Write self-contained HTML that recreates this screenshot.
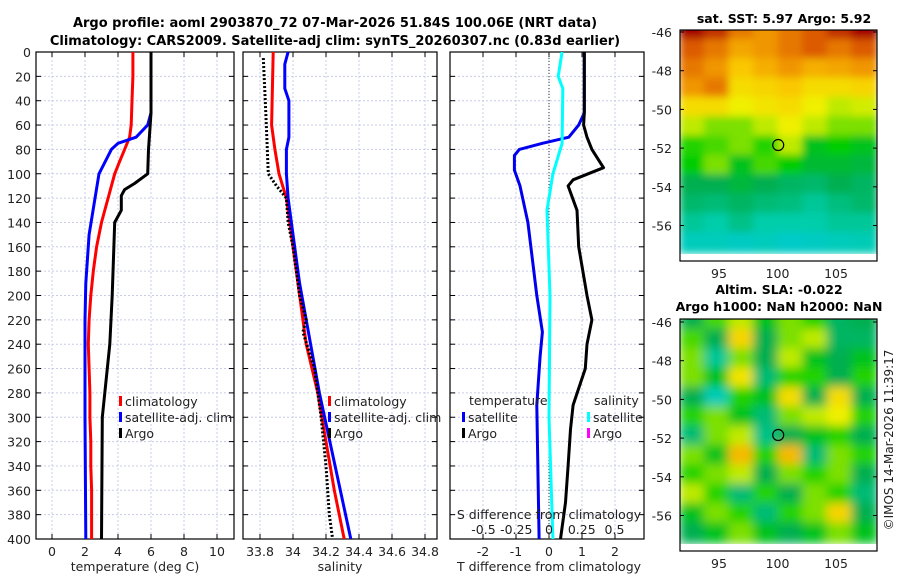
<!DOCTYPE html>
<html><head><meta charset="utf-8"><style>
body{margin:0;background:#fff;}
svg{display:block;font-family:"DejaVu Sans","Liberation Sans",sans-serif;}
</style></head><body>
<svg id="fig" width="900" height="580" viewBox="0 0 900 580" xmlns="http://www.w3.org/2000/svg">
<defs>
<filter id="blur1" x="0" y="0" width="1" height="1"><feGaussianBlur stdDeviation="4" edgeMode="duplicate"/></filter>
<filter id="blur2" x="0" y="0" width="1" height="1"><feGaussianBlur stdDeviation="5" edgeMode="duplicate"/></filter>
<clipPath id="c1"><rect x="36" y="52" width="198" height="487"/></clipPath>
<clipPath id="c2"><rect x="243" y="52" width="194" height="487"/></clipPath>
<clipPath id="c3"><rect x="450" y="52" width="194" height="487"/></clipPath>
<clipPath id="cm1"><rect x="680" y="30" width="197" height="231"/></clipPath>
<clipPath id="cm2"><rect x="680" y="319" width="197" height="232"/></clipPath>
</defs>
<g font-weight="bold" font-size="13" text-anchor="middle">
<text x="335" y="27">Argo profile: aoml 2903870_72 07-Mar-2026 51.84S 100.06E (NRT data)</text>
<text x="335" y="45">Climatology: CARS2009. Satellite-adj clim: synTS_20260307.nc (0.83d earlier)</text>
</g>
<g id="layer"></g>
</svg>
<script>
// ---- data ----
const depthTicks=[0,20,40,60,80,100,120,140,160,180,200,220,240,260,280,300,320,340,360,380,400];
const tTicks=[0,2,4,6,8,10];
const sTicks=[33.8,34,34.2,34.4,34.6,34.8];
const sTickLabels=["33.8","34","34.2","34.4","34.6","34.8"];
const dTicks=[-2,-1,0,1,2];
const sdTicks=[-0.5,-0.25,0,0.25,0.5];
const sdTickLabels=["-0.5","-0.25","0","0.25","0.5"];

const climTDepth=[0,20,40,60,70,80,90,100,120,140,160,180,200,220,240,260,280,300,320,340,360,380,400];
const climT=[4.9,4.9,4.85,4.8,4.7,4.4,4.1,3.8,3.4,3.0,2.7,2.5,2.35,2.25,2.2,2.25,2.3,2.3,2.35,2.35,2.4,2.4,2.4];
const satTDepth=[0,50,60,70,75,80,100,150,190,220,300,400];
const satT=[6.0,6.0,5.8,5.1,4.0,3.6,2.85,2.25,2.05,2.0,2.0,2.05];
const argoTDepth=[0,50,60,80,100,108,113,118,130,140,200,240,280,300,400];
const argoT=[6.0,6.0,5.95,5.85,5.8,5.0,4.4,4.2,4.2,3.8,3.65,3.5,3.2,3.05,3.0];

const climSDepth=[0,60,80,100,120,140,190,240,280,320,360,400];
const climS=[33.88,33.87,33.89,33.915,33.96,33.98,34.03,34.08,34.15,34.2,34.25,34.31];
const satSDepth=[0,10,30,40,70,80,100,120,150,190,280,400];
const satS=[33.97,33.95,33.95,33.975,33.975,33.96,33.96,33.97,34.0,34.04,34.16,34.35];
const argoSDepth=[5,50,100,110,115,120,140,160,200,220,230,260,300,340,380,400];
const argoS=[33.82,33.835,33.85,33.9,33.93,33.96,33.97,34.0,34.04,34.08,34.06,34.13,34.17,34.2,34.22,34.24];

const dTSatDepth=[0,50,60,70,75,80,85,97,110,140,200,230,250,290,400];
const dTSat=[1.07,1.07,0.9,0.6,-0.2,-0.9,-1.05,-1.05,-0.88,-0.64,-0.37,-0.2,-0.27,-0.37,-0.3];
const dTArgoDepth=[0,50,60,70,80,95,105,110,130,160,200,220,240,260,290,310,340,370,400];
const dTArgo=[1.07,1.07,1.05,1.15,1.3,1.65,0.73,0.58,0.85,0.9,1.15,1.3,1.15,1.1,0.73,0.65,0.58,0.5,0.35];
const dSSatDepth=[0,20,30,75,100,130,200,300,400];
const dSSat=[0.1,0.07,0.105,0.1,0.03,-0.015,0.008,0,0.03];

const latTicks=[-46,-48,-50,-52,-54,-56];
const lonTicks=[95,100,105];
const sstGrid=[
[0.95,0.9,0.8,0.75,0.8,0.85,0.9,0.95],
[0.85,0.8,0.72,0.75,0.8,0.85,0.8,0.85],
[0.8,0.75,0.65,0.7,0.75,0.7,0.72,0.75],
[0.75,0.8,0.6,0.62,0.65,0.6,0.6,0.62],
[0.6,0.6,0.55,0.58,0.6,0.55,0.5,0.52],
[0.5,0.45,0.45,0.5,0.55,0.5,0.45,0.45],
[0.4,0.42,0.45,0.4,0.5,0.35,0.38,0.35],
[0.38,0.45,0.35,0.42,0.38,0.33,0.33,0.32],
[0.3,0.3,0.32,0.3,0.28,0.27,0.3,0.28],
[0.27,0.26,0.28,0.26,0.25,0.22,0.25,0.27],
[0.22,0.2,0.24,0.2,0.2,0.2,0.22,0.22],
[0.17,0.17,0.16,0.17,0.15,0.16,0.17,0.18]];
const slaGrid=[
[0.3,0.42,0.5,0.35,0.45,0.4,0.28,0.3],
[0.42,0.3,0.62,0.3,0.45,0.5,0.28,0.28],
[0.45,0.22,0.45,0.3,0.5,0.35,0.3,0.35],
[0.45,0.35,0.58,0.26,0.4,0.4,0.3,0.4],
[0.3,0.18,0.4,0.35,0.6,0.3,0.6,0.3],
[0.4,0.45,0.35,0.26,0.45,0.5,0.55,0.4],
[0.26,0.45,0.5,0.24,0.3,0.35,0.4,0.3],
[0.45,0.35,0.68,0.4,0.68,0.26,0.45,0.4],
[0.4,0.45,0.5,0.3,0.45,0.4,0.45,0.3],
[0.5,0.4,0.26,0.4,0.3,0.45,0.4,0.26],
[0.35,0.45,0.4,0.26,0.4,0.45,0.62,0.3],
[0.3,0.35,0.45,0.35,0.3,0.35,0.45,0.35]];
const gridLat0=-46, gridLon0=91.7, gridDLat=1, gridDLon=2.1;
const argoLon=100.06, argoLat=-51.84;

// ---- helpers ----
const NS="http://www.w3.org/2000/svg";
const L=document.getElementById('layer');
function mk(tag,attrs,parent){const e=document.createElementNS(NS,tag);for(const k in attrs)e.setAttribute(k,attrs[k]);(parent||L).appendChild(e);return e;}
const yD=d=>52+d*487/400;
const xT=v=>52+v*16.5;
const xS=v=>260+(v-33.8)*165;
const xDT=v=>549+v*33;
const xDS=v=>549+v*131;

function panel(x0,w,name,xs,ticks){
  const g=mk('g',{});
  
  
  ticks.forEach(t=>{mk('line',{x1:xs(t),x2:xs(t),y1:52,y2:539,stroke:'#c8cce8','stroke-width':1,'stroke-dasharray':'2,2'},g);});
  depthTicks.forEach(d=>{mk('line',{x1:x0,x2:x0+w,y1:yD(d),y2:yD(d),stroke:'#c8cce8','stroke-width':1,'stroke-dasharray':'2,2'},g);
    mk('line',{x1:x0,x2:x0+5,y1:yD(d),y2:yD(d),stroke:'#000'},g);mk('line',{x1:x0+w-5,x2:x0+w,y1:yD(d),y2:yD(d),stroke:'#000'},g);});
  ticks.forEach(t=>{mk('line',{x1:xs(t),x2:xs(t),y1:534,y2:539,stroke:'#000'},g);mk('line',{x1:xs(t),x2:xs(t),y1:52,y2:57,stroke:'#000'},g);});
  mk('rect',{x:x0,y:52,width:w,height:487,fill:'none',stroke:'#000','stroke-width':1.2},g);
  return g;
}
function line(xs,vals,depths,color,name,dash,width,clip){
  const p=mk('polyline',{points:vals.map((v,i)=>xs(v).toFixed(1)+','+yD(depths[i]).toFixed(1)).join(' '),fill:'none',stroke:color,'stroke-width':width||3,'clip-path':'url(#'+clip+')','stroke-linejoin':'round'});
  if(dash)p.setAttribute('stroke-dasharray',dash);
  
  
}
function txt(x,y,s,opt,name){const t=mk('text',Object.assign({x:x,y:y,'font-size':12.5,fill:'#222'},opt||{}));t.textContent=s;
  
  return t;}
function legEntry(x,y,color,label,name){const r=mk('rect',{x:x,y:y-10,width:3,height:10,fill:color});
  
  
  txt(x+6,y,label,{},name);}

// Panel 1
panel(36,198,'temperature-panel',xT,tTicks);
depthTicks.forEach(d=>txt(31,yD(d)+5,String(d),{'text-anchor':'end'},'depth-tick-label'));
tTicks.forEach(t=>txt(xT(t),556,String(t),{'text-anchor':'middle'},'temperature-tick-label'));
txt(135,571,'temperature (deg C)',{'text-anchor':'middle'},'temperature-axis-title');
line(xT,climT,climTDepth,'#f00','climatology-temperature-line',null,3,'c1');
line(xT,satT,satTDepth,'#00f','satellite-temperature-line',null,3,'c1');
line(xT,argoT,argoTDepth,'#000','argo-temperature-line',null,3,'c1');
legEntry(119,406,'#f00','climatology','legend-climatology');
legEntry(119,422,'#00f','satellite-adj. clim','legend-satellite');
legEntry(119,438,'#000','Argo','legend-argo');

// Panel 2
panel(243,194,'salinity-panel',xS,sTicks);
sTicks.forEach((t,i)=>txt(xS(t),556,sTickLabels[i],{'text-anchor':'middle'},'salinity-tick-label'));
txt(340,571,'salinity',{'text-anchor':'middle'},'salinity-axis-title');
line(xS,climS,climSDepth,'#f00','climatology-salinity-line',null,3,'c2');
line(xS,satS,satSDepth,'#00f','satellite-salinity-line',null,3,'c2');
line(xS,argoS,argoSDepth,'#000','argo-salinity-line','2,2',3,'c2');
legEntry(328,406,'#f00','climatology','legend-climatology-2');
legEntry(328,422,'#00f','satellite-adj. clim','legend-satellite-2');
legEntry(328,438,'#000','Argo','legend-argo-2');

// Panel 3
panel(450,194,'difference-panel',xDT,dTicks);
mk('line',{x1:xDT(0),x2:xDT(0),y1:52,y2:539,stroke:'#333','stroke-dasharray':'1,2','stroke-width':1});
line(xDT,dTSat,dTSatDepth,'#0000ee','satellite-temperature-diff-line',null,3,'c3');
line(xDT,dTArgo,dTArgoDepth,'#000','argo-temperature-diff-line',null,3,'c3');
line(xDS,dSSat,dSSatDepth,'#00ffff','satellite-salinity-diff-line',null,3,'c3');
txt(469,405,'temperature',{},'legend-temperature-heading');
legEntry(462,422,'#00f','satellite','legend-temperature-satellite');
legEntry(462,438,'#000','Argo','legend-temperature-argo');
txt(594,405,'salinity',{},'legend-salinity-heading');
legEntry(587,422,'#00ffff','satellite','legend-salinity-satellite');
legEntry(587,438,'#ff00ff','Argo','legend-salinity-argo');
txt(549,519,'S difference from climatology',{'text-anchor':'middle'},'salinity-diff-axis-title');
sdTicks.forEach((t,i)=>txt(xDS(t),534,sdTickLabels[i],{'text-anchor':'middle'},'salinity-diff-tick-label'));
dTicks.forEach(t=>txt(xDT(t),556,String(t),{'text-anchor':'middle'},'temperature-diff-tick-label'));
txt(549,571,'T difference from climatology',{'text-anchor':'middle'},'temperature-diff-axis-title');

// colormap
const stops=[[0.1,[0,200,230]],[0.2,[0,205,170]],[0.3,[0,175,80]],[0.38,[0,205,0]],[0.47,[160,230,0]],[0.55,[240,240,0]],[0.65,[250,200,0]],[0.75,[240,150,0]],[0.85,[220,90,0]],[0.95,[165,0,0]]];
function cmap(v){if(v<=stops[0][0])return 'rgb('+stops[0][1]+')';for(let i=1;i<stops.length;i++){if(v<=stops[i][0]){const a=stops[i-1],b=stops[i],f=(v-a[0])/(b[0]-a[0]);return 'rgb('+a[1].map((c,j)=>Math.round(c+(b[1][j]-c)*f)).join(',')+')';}}return 'rgb('+stops[stops.length-1][1]+')';}

function map(grid,y0,yLat46,name,clip,filt){
  const pxLat=19.35, pxLon=11.7;
  const yL=lat=>yLat46+(-46-lat)*pxLat;
  const xL=lon=>719+(lon-95)*pxLon;
  const g=mk('g',{'clip-path':'url(#'+clip+')'});
  
  
  const inner=mk('g',{filter:'url(#'+filt+')'},g);
  grid.forEach((row,r)=>row.forEach((v,c)=>{
    const la=gridLat0-r*gridDLat+0.6, lo=gridLon0+c*gridDLon;
    const cell=mk('rect',{x:xL(lo)-1,y:yL(la)-1,width:gridDLon*pxLon+2,height:gridDLat*pxLat+2,fill:cmap(v)},inner);
    
    
  }));
  mk('rect',{x:680,y:y0,width:197,height:(clip==='cm1'?231:232),fill:'none',stroke:'#000','stroke-width':1.2});
  latTicks.forEach(l=>{txt(672,yL(l)+5,String(l),{'text-anchor':'end'},'latitude-tick-label');
    mk('line',{x1:680,x2:684,y1:yL(l),y2:yL(l),stroke:'#000'});mk('line',{x1:873,x2:877,y1:yL(l),y2:yL(l),stroke:'#000'});});
  lonTicks.forEach(l=>{txt(xL(l),y0+(clip==='cm1'?231:232)+17,String(l),{'text-anchor':'middle'},'longitude-tick-label');});
  const m=mk('circle',{cx:xL(argoLon),cy:yL(argoLat),r:5.5,fill:'none',stroke:'#000','stroke-width':1.2});
  
  
}
map(sstGrid,30,32,'sst-map','cm1','blur1');
map(slaGrid,319,322,'sla-map','cm2','blur2');
txt(784,23,'sat. SST: 5.97 Argo: 5.92',{'text-anchor':'middle','font-weight':'bold','font-size':12.5,fill:'#000'},'sst-map-title');
txt(779,294,'Altim. SLA: -0.022',{'text-anchor':'middle','font-weight':'bold','font-size':12.5,fill:'#000'},'sla-map-title');
txt(779,311,'Argo h1000: NaN h2000: NaN',{'text-anchor':'middle','font-weight':'bold','font-size':12.5,fill:'#000'},'sla-map-subtitle');
txt(0,0,'©IMOS 14-Mar-2026 11:39:17',{'text-anchor':'middle',transform:'translate(893,440) rotate(-90)','font-size':12},'copyright-timestamp');
</script>
</body></html>
